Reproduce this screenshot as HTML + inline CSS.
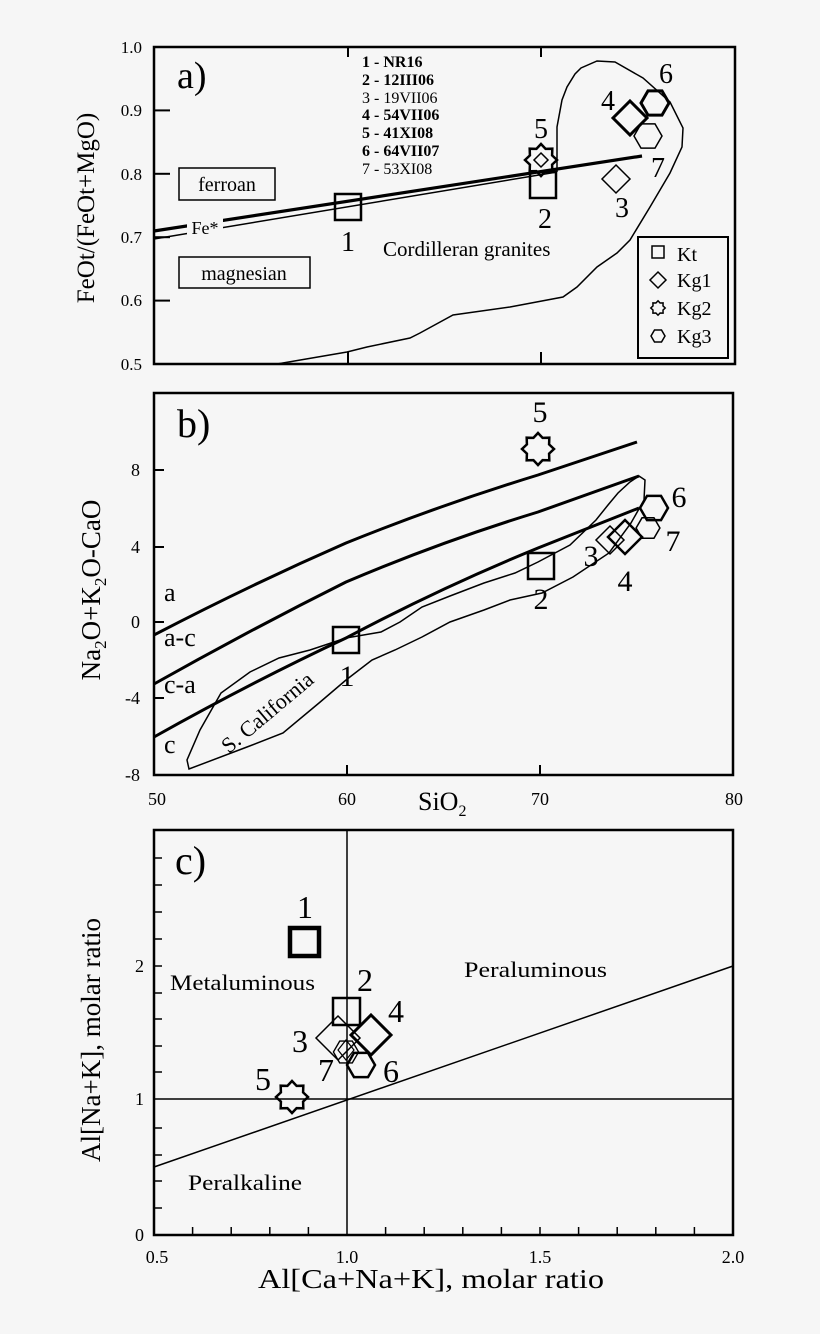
<!DOCTYPE html>
<html><head><meta charset="utf-8"><style>
html,body{margin:0;padding:0;background:#f6f6f6}
svg{display:block}
text{font-family:"Liberation Serif",serif;fill:#000}
</style></head><body>
<svg width="820" height="1334" viewBox="0 0 820 1334" xmlns="http://www.w3.org/2000/svg">
<defs>
<path id="star" d="M0,-16 L4.59,-11.09 L11.31,-11.31 L11.09,-4.59 L16,0 L11.09,4.59 L11.31,11.31 L4.59,11.09 L0,16 L-4.59,11.09 L-11.31,11.31 L-11.09,4.59 L-16,0 L-11.09,-4.59 L-11.31,-11.31 L-4.59,-11.09 Z"/>
<path id="hex" d="M14,0 L7,12.1 L-7,12.1 L-14,0 L-7,-12.1 L7,-12.1 Z"/>
</defs>
<rect width="820" height="1334" fill="#f6f6f6"/>
<g fill="none" stroke="#000">
<rect x="154" y="47" width="581" height="317" stroke-width="2.5"/>
<g stroke-width="2">
<line x1="154" y1="110.4" x2="170" y2="110.4"/>
<line x1="154" y1="173.8" x2="170" y2="173.8"/>
<line x1="154" y1="237.2" x2="170" y2="237.2"/>
<line x1="154" y1="300.6" x2="170" y2="300.6"/>
<line x1="348" y1="47" x2="348" y2="57"/>
<line x1="541" y1="47" x2="541" y2="57"/>
<line x1="348" y1="364" x2="348" y2="352"/>
<line x1="541" y1="364" x2="541" y2="352"/>
</g>
<polyline stroke-width="1.5" points="557,172 557,150 557,127 562,100 567,87 575,74 581,68 597,61 615,62 643,78 670,102 683,128 682,147 670,173 650,207 630,240 617,253 597,267 577,287 563,297 510,307 453,315 420,333 410,338 367,347 347,352 277,364"/>
<line x1="154" y1="231" x2="642" y2="156" stroke-width="3.2"/>
<line x1="154" y1="239" x2="557" y2="172" stroke-width="1.5"/>
<rect x="179" y="168" width="96" height="32" stroke-width="1.5"/>
<rect x="179" y="257" width="131" height="31" stroke-width="1.5"/>
<rect x="187" y="218" width="36" height="18" fill="#f6f6f6" stroke="none"/>
<rect x="335" y="194" width="26" height="26" stroke-width="2.5"/>
<rect x="530" y="172" width="26" height="26" stroke-width="2.5"/>
<use href="#star" transform="translate(541,160)" stroke-width="2.5"/>
<path d="M541,153 L548,160 L541,167 L534,160Z" stroke-width="1.5"/>
<path d="M616,165 L630,179 L616,193 L602,179Z" stroke-width="1.5"/>
<path d="M630,101 L647,118 L630,135 L613,118Z" stroke-width="3"/>
<use href="#hex" transform="translate(648,136)" stroke-width="1.5"/>
<use href="#hex" transform="translate(655,103)" stroke-width="3"/>
<rect x="638" y="237" width="90" height="121" stroke-width="2"/>
<rect x="652" y="246" width="12" height="12" stroke-width="1.5"/>
<path d="M658,272 L666,280 L658,288 L650,280Z" stroke-width="1.5"/>
<path transform="translate(658,308) scale(0.45)" d="M0,-16 L4.59,-11.09 L11.31,-11.31 L11.09,-4.59 L16,0 L11.09,4.59 L11.31,11.31 L4.59,11.09 L0,16 L-4.59,11.09 L-11.31,11.31 L-11.09,4.59 L-16,0 L-11.09,-4.59 L-11.31,-11.31 L-4.59,-11.09 Z" stroke-width="3.3"/>
<path d="M665,336 L661.5,342 L654.5,342 L651,336 L654.5,330 L661.5,330Z" stroke-width="1.5"/>

<rect x="154" y="393" width="579" height="382" stroke-width="2.5"/>
<g stroke-width="2">
<line x1="154" y1="470" x2="164" y2="470"/>
<line x1="154" y1="547" x2="164" y2="547"/>
<line x1="154" y1="622" x2="164" y2="622"/>
<line x1="154" y1="698" x2="164" y2="698"/>
<line x1="347" y1="775" x2="347" y2="765"/>
<line x1="540" y1="775" x2="540" y2="765"/>
</g>
<path stroke-width="1.5" d="M189,769 L187,760 L200,730 L221,693 L250,672 L279,658 L310,650 L346,638 L381,632 L400,622 L422,607 L450,596 L484,583 L515,573 L538,562 L570,545 L596,520 L608,505 L618,493 L630,482 L639,476 L645,480 L644,500 L631,523 L609,553 L573,577 L542,593 L510,600 L484,610 L450,622 L422,637 L395,650 L372,660 L346,680 L319,703 L283,733 L247,747 Z"/>
<path stroke-width="3" d="M154,635 Q250,585 346,543 Q440,505 538,475 L637,442"/>
<path stroke-width="3" d="M154,684 Q250,630 346,582 Q440,542 538,512 L639,476"/>
<path stroke-width="3" d="M154,737 Q250,683 346,638 Q440,588 538,548 L639,508"/>
<rect x="333" y="627" width="26" height="26" stroke-width="2.5"/>
<rect x="528" y="553" width="26" height="26" stroke-width="2.5"/>
<use href="#star" transform="translate(538,449)" stroke-width="2.5"/>
<path d="M610,526 L624,540 L610,554 L596,540Z" stroke-width="1.5"/>
<path d="M625,520 L642,537 L625,554 L608,537Z" stroke-width="2.5"/>
<use href="#hex" transform="translate(648,528) scale(0.85)" stroke-width="1.8"/>
<use href="#hex" transform="translate(654,508)" stroke-width="2.5"/>

<rect x="154" y="830" width="579" height="405" stroke-width="2.5"/>
<g stroke-width="1.5">
<line x1="154" y1="1208" x2="162" y2="1208"/>
<line x1="154" y1="1181" x2="162" y2="1181"/>
<line x1="154" y1="1155" x2="162" y2="1155"/>
<line x1="154" y1="1128" x2="162" y2="1128"/>
<line x1="154" y1="1072" x2="162" y2="1072"/>
<line x1="154" y1="1046" x2="162" y2="1046"/>
<line x1="154" y1="1019" x2="162" y2="1019"/>
<line x1="154" y1="993" x2="162" y2="993"/>
<line x1="154" y1="966" x2="162" y2="966"/>
<line x1="154" y1="939" x2="162" y2="939"/>
<line x1="154" y1="912" x2="162" y2="912"/>
<line x1="154" y1="885" x2="162" y2="885"/>
<line x1="154" y1="858" x2="162" y2="858"/>
<line x1="192.6" y1="1235" x2="192.6" y2="1227"/>
<line x1="231.2" y1="1235" x2="231.2" y2="1227"/>
<line x1="269.8" y1="1235" x2="269.8" y2="1227"/>
<line x1="308.4" y1="1235" x2="308.4" y2="1227"/>
<line x1="385.6" y1="1235" x2="385.6" y2="1227"/>
<line x1="424.2" y1="1235" x2="424.2" y2="1227"/>
<line x1="462.8" y1="1235" x2="462.8" y2="1227"/>
<line x1="501.4" y1="1235" x2="501.4" y2="1227"/>
<line x1="540" y1="1235" x2="540" y2="1227"/>
<line x1="578.6" y1="1235" x2="578.6" y2="1227"/>
<line x1="617.2" y1="1235" x2="617.2" y2="1227"/>
<line x1="655.8" y1="1235" x2="655.8" y2="1227"/>
<line x1="694.4" y1="1235" x2="694.4" y2="1227"/>
<line x1="347" y1="830" x2="347" y2="1235"/>
<line x1="154" y1="1099" x2="733" y2="1099"/>
<line x1="154" y1="1167" x2="733" y2="966"/>
</g>
<rect x="290" y="928" width="29" height="28" stroke-width="4.5"/>
<rect x="333" y="998" width="27" height="27" stroke-width="2.5"/>
<path d="M338,1016 L360,1038 L338,1060 L316,1038Z" stroke-width="1.5"/>
<path d="M371,1015 L391,1035 L371,1055 L351,1035Z" stroke-width="3"/>
<path d="M346,1040 L354,1050 L346,1060 L338,1050Z" stroke-width="1.2"/>
<use href="#hex" transform="translate(346,1052) scale(0.9)" stroke-width="1.5"/>
<use href="#hex" transform="translate(361,1065)" stroke-width="2.5"/>
<use href="#star" transform="translate(292,1097)" stroke-width="2.5"/>
</g>

<g font-size="17" text-anchor="end">
<text x="142" y="53">1.0</text><text x="142" y="116">0.9</text><text x="142" y="180">0.8</text>
<text x="142" y="243">0.7</text><text x="142" y="306">0.6</text><text x="142" y="370">0.5</text>
</g>
<text transform="translate(94,208) rotate(-90)" text-anchor="middle" font-size="25">FeOt/(FeOt+MgO)</text>
<text x="177" y="88" font-size="38">a)</text>
<g font-size="16">
<text x="362" y="67" font-weight="bold">1 - NR16</text>
<text x="362" y="85" font-weight="bold">2 - 12III06</text>
<text x="362" y="103">3 - 19VII06</text>
<text x="362" y="120" font-weight="bold">4 - 54VII06</text>
<text x="362" y="138" font-weight="bold">5 - 41XI08</text>
<text x="362" y="156" font-weight="bold">6 - 64VII07</text>
<text x="362" y="174">7 - 53XI08</text>
</g>
<g font-size="20" text-anchor="middle">
<text x="227" y="191">ferroan</text>
<text x="244" y="280">magnesian</text>
</g>
<text x="205" y="234" font-size="18" text-anchor="middle">Fe*</text>
<text x="383" y="256" font-size="21">Cordilleran granites</text>
<g font-size="28" text-anchor="middle">
<text x="348" y="251">1</text><text x="545" y="228">2</text><text x="622" y="217">3</text>
<text x="608" y="110">4</text><text x="541" y="138">5</text><text x="666" y="83">6</text>
<text x="658" y="177">7</text>
</g>
<g font-size="20">
<text x="677" y="261">Kt</text><text x="677" y="287">Kg1</text><text x="677" y="315">Kg2</text><text x="677" y="343">Kg3</text>
</g>

<g font-size="18" text-anchor="end">
<text x="140" y="476">8</text><text x="140" y="553">4</text><text x="140" y="628">0</text>
<text x="140" y="704">-4</text><text x="140" y="781">-8</text>
</g>
<g font-size="18" text-anchor="middle">
<text x="157" y="805">50</text><text x="347" y="805">60</text><text x="540" y="805">70</text><text x="734" y="805">80</text>
</g>
<text x="418" y="810" font-size="26">SiO<tspan font-size="16" dy="6">2</tspan></text>
<text transform="translate(100,590) rotate(-90)" text-anchor="middle" font-size="27">Na<tspan font-size="17" dy="6">2</tspan><tspan dy="-6">O+K</tspan><tspan font-size="17" dy="6">2</tspan><tspan dy="-6">O-CaO</tspan></text>
<text x="177" y="437" font-size="40">b)</text>
<g font-size="26">
<text x="164" y="601">a</text><text x="164" y="646">a-c</text><text x="164" y="693">c-a</text><text x="164" y="753">c</text>
</g>
<text transform="translate(272,718) rotate(-40)" text-anchor="middle" font-size="22">S. California</text>
<g font-size="30" text-anchor="middle">
<text x="347" y="686">1</text><text x="541" y="609">2</text><text x="591" y="566">3</text>
<text x="625" y="591">4</text><text x="540" y="422">5</text><text x="679" y="507">6</text><text x="673" y="551">7</text>
</g>

<g font-size="18" text-anchor="end">
<text x="144" y="1241">0</text><text x="144" y="1105">1</text><text x="144" y="972">2</text>
</g>
<g font-size="18" text-anchor="middle">
<text x="157" y="1263">0.5</text><text x="347" y="1263">1.0</text><text x="540" y="1263">1.5</text><text x="733" y="1263">2.0</text>
</g>
<text x="258" y="1288" font-size="27" textLength="346" lengthAdjust="spacingAndGlyphs">Al[Ca+Na+K], molar ratio</text>
<text transform="translate(100,1040) rotate(-90)" text-anchor="middle" font-size="27">Al[Na+K], molar ratio</text>
<text x="175" y="874" font-size="40">c)</text>
<g font-size="22">
<text x="170" y="990" textLength="145" lengthAdjust="spacingAndGlyphs">Metaluminous</text>
<text x="464" y="977" textLength="143" lengthAdjust="spacingAndGlyphs">Peraluminous</text>
<text x="188" y="1190" textLength="114" lengthAdjust="spacingAndGlyphs">Peralkaline</text>
</g>
<g font-size="32" text-anchor="middle">
<text x="305" y="918">1</text><text x="365" y="991">2</text><text x="300" y="1052">3</text>
<text x="396" y="1022">4</text><text x="263" y="1090">5</text><text x="391" y="1082">6</text><text x="326" y="1081">7</text>
</g>
</svg>
</body></html>
